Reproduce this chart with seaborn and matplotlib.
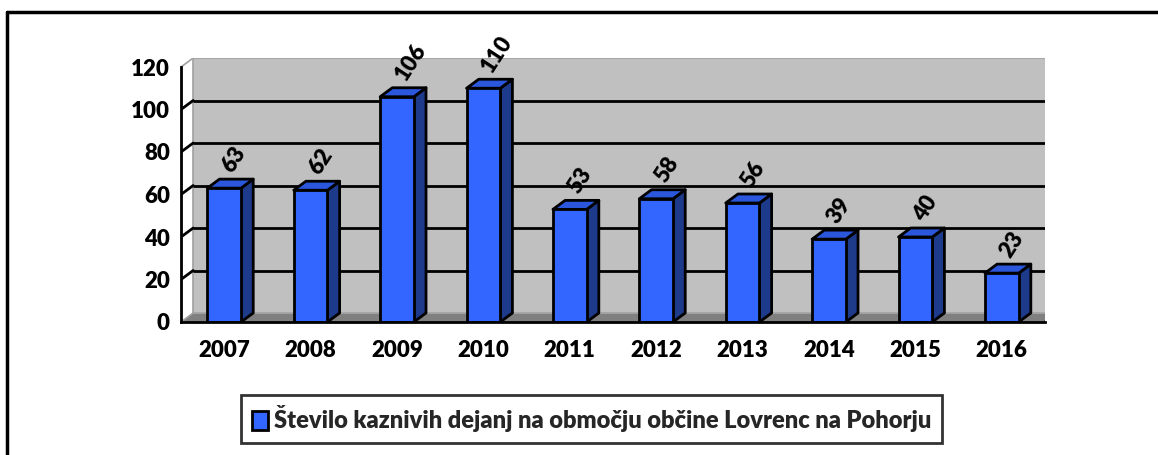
import matplotlib
matplotlib.use("Agg")
import matplotlib.pyplot as plt
import seaborn as sns
import pandas as pd
from matplotlib.patches import Polygon, Patch
from matplotlib.lines import Line2D

years = ["2007", "2008", "2009", "2010", "2011", "2012", "2013", "2014", "2015", "2016"]
values = [63, 62, 106, 110, 53, 58, 56, 39, 40, 23]
series_name = "Število kaznivih dejanj na območju občine Lovrenc na Pohorju"
yticks = [0, 20, 40, 60, 80, 100, 120]

sns.set_style("white")
plt.rcParams["font.family"] = ["Lato", "DejaVu Sans"]
WEIGHT = "heavy"
plt.rcParams["font.weight"] = WEIGHT

W, H = 1158, 455
fig = plt.figure(figsize=(W / 100, H / 100), dpi=100)

x0px, y0px = 181, 322
xend_px, ytop_px = 1045, 58
ax = fig.add_axes([x0px / W, (H - y0px) / H, (xend_px - x0px) / W, (y0px - ytop_px) / H])

n = len(years)
YMAX = 120
px_per_cat = 85.2
px_per_unit = 2.125
DX = 12 / px_per_cat
DY = 9 / px_per_unit
ax.set_xlim(-0.5, n - 0.5 + DX)
ax.set_ylim(0, YMAX + DY)

FRONT = "#3366FF"
TOP = "#2B57DD"
SIDE = "#1E3A8A"
WALL = "#C0C0C0"
FLOOR = "#808080"

# back wall
ax.add_patch(Polygon([(-0.5 + DX, DY), (n - 0.5 + DX, DY), (n - 0.5 + DX, YMAX + DY), (-0.5 + DX, YMAX + DY)],
                     closed=True, facecolor=WALL, edgecolor="#A0A0A0", lw=1.2, zorder=0))
# floor
ax.add_patch(Polygon([(-0.5, 0), (n - 0.5, 0), (n - 0.5 + DX, DY), (-0.5 + DX, DY)],
                     closed=True, facecolor=FLOOR, edgecolor="none", zorder=0.5))
ax.plot([-0.5 + DX, n - 0.5 + DX], [DY, DY], color="#A8A8A8", lw=1.2, zorder=0.55)
for v in yticks:
    if 0 < v < YMAX:
        ax.plot([-0.5 + DX, n - 0.5 + DX], [v + DY, v + DY], color="black", lw=2, zorder=0.6, solid_capstyle="butt")
        ax.plot([-0.5, -0.5 + DX], [v, v + DY], color="black", lw=2, zorder=0.6)
    else:
        ax.plot([-0.5, -0.5 + DX], [v, v + DY], color="#A0A0A0", lw=1.2, zorder=0.6)
ax.plot([n - 0.5, n - 0.5 + DX], [0, DY], color="black", lw=2, zorder=0.7, solid_capstyle="butt")

df = pd.DataFrame({"year": years, "value": values})
sns.barplot(data=df, x="year", y="value", color=FRONT, width=0.39, edgecolor="black",
            linewidth=2, saturation=1, ax=ax, zorder=3)

bars = [pp for pp in ax.patches if pp.get_facecolor()[:3] == matplotlib.colors.to_rgb(FRONT)]
for p, v in zip(bars, values):
    xl = p.get_x()
    xr = xl + p.get_width()
    h = p.get_height()
    ax.add_patch(Polygon([(xr, 0), (xr + DX, DY), (xr + DX, h + DY), (xr, h)], closed=True,
                         facecolor=SIDE, edgecolor="black", lw=2, zorder=2.9, joinstyle="round"))
    ax.add_patch(Polygon([(xl, h), (xr, h), (xr + DX, h + DY), (xl + DX, h + DY)], closed=True,
                         facecolor=TOP, edgecolor="black", lw=2, zorder=2.9, joinstyle="round"))
    ax.annotate(str(v), xy=((xl + xr) / 2 + DX / 2, h + DY), xytext=(-3, 9), textcoords="offset pixels",
                rotation=57, rotation_mode="anchor", ha="left", va="center",
                fontsize=16, fontweight=WEIGHT, color="black", zorder=5)

for s in ["top", "right"]:
    ax.spines[s].set_visible(False)
ax.spines["left"].set_bounds(0, YMAX)
ax.spines["bottom"].set_bounds(-0.5, n - 0.5)
for s in ["left", "bottom"]:
    ax.spines[s].set_linewidth(2)
    ax.spines[s].set_color("black")
    ax.spines[s].set_zorder(4)
ax.set_yticks(yticks)
ax.set_yticklabels([str(t) for t in yticks])
ax.set_xticks(range(n))
ax.set_xticklabels(years)
ax.set_xticks([i - 0.5 for i in range(n + 1)], minor=True)
ax.tick_params(axis="y", direction="out", length=6, width=2, pad=2, labelsize=16, colors="black")
ax.tick_params(axis="x", which="major", length=0, pad=13, labelsize=16, colors="black")
ax.tick_params(axis="x", which="minor", direction="out", length=6, width=2)
for lab in ax.get_xticklabels() + ax.get_yticklabels():
    lab.set_fontweight(WEIGHT)
ax.set_xlabel("")
ax.set_ylabel("")
ax.patch.set_visible(False)

handle = Patch(facecolor=FRONT, edgecolor="black", linewidth=2, label=series_name)
leg = fig.legend(handles=[handle], loc="center", bbox_to_anchor=(591.5 / W, (H - 419) / H),
                 frameon=True, fancybox=False, edgecolor="black",
                 handlelength=0.7, handleheight=0.9, handletextpad=0.25, borderpad=0.45,
                 prop={"weight": WEIGHT, "size": 17})
leg.get_frame().set_linewidth(2)

fig.add_artist(Line2D([7 / W, 7 / W], [0, (H - 12) / H], transform=fig.transFigure, color="black", lw=2.5))
fig.add_artist(Line2D([7 / W, 1], [(H - 12) / H, (H - 12) / H], transform=fig.transFigure, color="black", lw=2.5))

fig.savefig("out.png", dpi=100)
